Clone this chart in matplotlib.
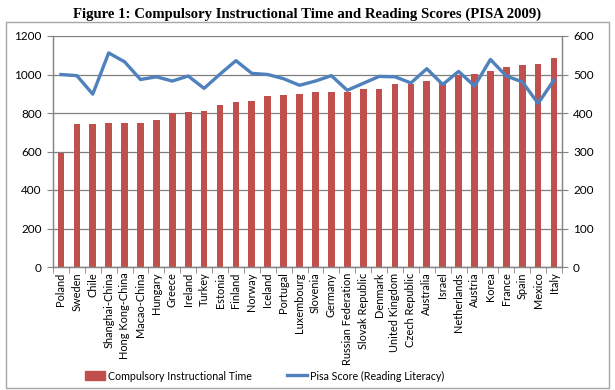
import matplotlib
matplotlib.use("Agg")
import matplotlib.pyplot as plt
from matplotlib.patches import Rectangle
from matplotlib.lines import Line2D
import numpy as np

countries = ["Poland", "Sweden", "Chile", "Shanghai-China", "Hong Kong-China", "Macao-China",
             "Hungary", "Greece", "Ireland", "Turkey", "Estonia", "Finland", "Norway", "Iceland",
             "Portugal", "Luxembourg", "Slovenia", "Germany", "Russian Federation",
             "Slovak Republic", "Denmark", "United Kingdom", "Czech Republic", "Australia",
             "Israel", "Netherlands", "Austria", "Korea", "France", "Spain", "Mexico", "Italy"]
instr_time = [594, 741, 744, 750, 750, 750, 765, 800, 803, 812, 841, 857, 860, 889,
              895, 901, 908, 910, 910, 924, 927, 950, 953, 964, 960, 1000, 1003, 1019,
              1041, 1050, 1057, 1088]
pisa = [500, 497, 449, 556, 533, 487, 494, 483, 496, 464, 501, 536, 503, 500,
        489, 472, 483, 497, 459, 477, 495, 494, 478, 515, 474, 508, 470, 539,
        496, 481, 425, 486]

plt.rcParams['font.family'] = ['Lato', 'DejaVu Sans']
W, H = 615, 390
fig = plt.figure(figsize=(W/100, H/100), dpi=100)
ax = fig.add_axes([53/W, 1-267/H, (562-53)/W, (267-36)/H])
ax2 = ax.twinx()

gcol = '#868686'
x = np.arange(len(countries))
ax.bar(x, instr_time, width=0.42, color='#C0504D', zorder=2)
ax.set_ylim(0, 1200)
ax.set_yticks(range(0, 1201, 200))
ax.set_xlim(-0.5, len(countries)-0.5)
ax.set_xticks(x)
ax.set_xticklabels(countries, rotation=90, fontsize=7.9)
ax.set_xticks(np.arange(-0.5, len(countries), 1), minor=True)
ax.tick_params(axis='x', which='major', length=0, pad=4)
ax.tick_params(axis='x', which='minor', length=4, color=gcol, direction='out')
ax.tick_params(axis='y', length=4, color=gcol, labelsize=8.5, pad=4)
ax.yaxis.grid(True, color='#7F7F7F', linewidth=0.9, zorder=0)
ax.set_axisbelow(True)
for s in ['top']:
    ax.spines[s].set_visible(False)
    ax2.spines[s].set_visible(False)
for a in (ax, ax2):
    for s in ['left', 'right', 'bottom']:
        a.spines[s].set_color(gcol)
        a.spines[s].set_linewidth(0.9)

ax2.plot(x, pisa, color='#4F81BD', linewidth=2.4, zorder=3)
ax2.set_ylim(0, 600)
ax2.set_yticks(range(0, 601, 100))
ax2.tick_params(axis='y', length=4, color=gcol, labelsize=8.5, pad=4)

fig.text(307/W, 1-14/H, "Figure 1: Compulsory Instructional Time and Reading Scores (PISA 2009)",
         ha='center', va='center', fontsize=10.6, fontweight='bold',
         family=['Liberation Serif'])

fig.patches.append(Rectangle((6/W, 1-388/H), (609-6)/W, (388-22)/H, transform=fig.transFigure,
                             fill=False, edgecolor='#A6A6A6', linewidth=1.0))

handles = [Rectangle((0, 0), 1, 1, color='#C0504D'),
           Line2D([0], [0], color='#4F81BD', linewidth=2.4)]
fig.legend(handles, ["Compulsory Instructional Time", "Pisa Score (Reading Literacy)"],
           loc='center', bbox_to_anchor=(265/W, 1-376/H), ncol=2, frameon=False,
           fontsize=7.7, handlelength=1.85, handleheight=0.9, columnspacing=3.3,
           handletextpad=0.3)

fig.savefig("out.png", dpi=100)
